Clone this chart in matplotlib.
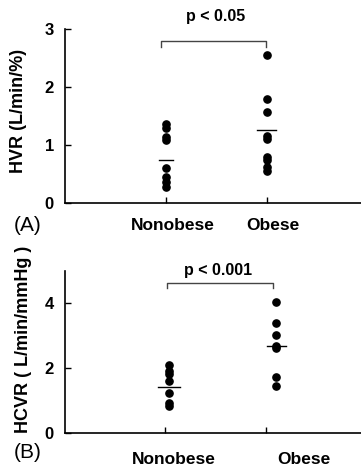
import matplotlib
matplotlib.use("Agg")
import matplotlib.pyplot as plt
import matplotlib.transforms as mtransforms

plt.rcParams['font.family'] = ['Liberation Sans', 'DejaVu Sans']

groups = ["Nonobese", "Obese"]

# Panel A: HVR
hvr_nonobese = [1.36, 1.30, 1.14, 1.09, 0.60, 0.45, 0.37, 0.28]
hvr_obese = [2.56, 1.79, 1.57, 1.15, 1.11, 0.79, 0.75, 0.62, 0.55]
hvr_means = [0.75, 1.26]
hvr_p = "p < 0.05"

# Panel B: HCVR
hcvr_nonobese = [2.10, 1.92, 1.82, 1.59, 1.25, 0.92, 0.82]
hcvr_obese = [4.05, 3.38, 3.02, 2.69, 2.62, 1.74, 1.46]
hcvr_means = [1.42, 2.70]
hcvr_p = "p < 0.001"

W, H = 361, 470
fig = plt.figure(figsize=(W / 100, H / 100), dpi=100)

def px_axes(left, top, right, bottom):
    return fig.add_axes([left / W, 1 - bottom / H, (right - left) / W, (bottom - top) / H])

def style(ax, ylim, yticks, xlim):
    ax.set_xlim(*xlim)
    ax.set_ylim(*ylim)
    ax.set_yticks(yticks)
    ax.set_yticklabels([str(t) for t in yticks], fontsize=12, fontweight='bold')
    ax.set_xticks([0, 1])
    ax.set_xticklabels([])
    ax.tick_params(direction='in', length=4, width=1, pad=8)
    for s in ['top', 'right']:
        ax.spines[s].set_visible(False)
    for s in ['left', 'bottom']:
        ax.spines[s].set_linewidth(1.2)
    ax.patch.set_alpha(0)

def draw(ax, nonob, ob, means, xoff, mean_half, ptxt, bracket, ptxt_pos, label_x, label_y):
    ax.plot([xoff[0]] * len(nonob), nonob, 'o', color='black', ms=5.2, clip_on=False)
    ax.plot([xoff[1]] * len(ob), ob, 'o', color='black', ms=5.2, clip_on=False)
    for i, m in enumerate(means):
        ax.plot([xoff[i] + mean_half[i] * -1, xoff[i] + mean_half[i]], [m, m],
                color='black', lw=1.0)
    bx0, bx1, by, bdrop = bracket
    ax.plot([bx0, bx0, bx1, bx1], [by - bdrop, by, by, by - bdrop], color='#444444',
            lw=1.0, clip_on=False)
    ax.text(ptxt_pos[0], ptxt_pos[1], ptxt, ha='center', va='center',
            fontsize=11.5, fontweight='bold', clip_on=False)
    trans = mtransforms.blended_transform_factory(ax.transData, fig.transFigure)
    for xl, g in zip(label_x, groups):
        ax.text(xl, 1 - label_y / H, g, ha='center', va='center', fontsize=12.5,
                fontweight='bold', transform=trans)

# Panel A
axA = px_axes(65, 29, 361, 203)
style(axA, (0, 3), [0, 1, 2, 3], (-1.01, 1.94))
draw(axA, hvr_nonobese, hvr_obese, hvr_means, (0.0, 1.0), (0.07, 0.095),
     hvr_p, (-0.05, 0.99, 2.79, 0.1), (0.49, 3.21), (0.06, 1.06), 225)
axA.set_ylabel("HVR (L/min/%)", fontsize=13, fontweight='bold')
axA.yaxis.set_label_coords(-0.13, 0.53)
fig.text(28 / W, 1 - 226 / H, "(A)", ha='center', va='center', fontsize=15)

# Panel B
axB = px_axes(65, 271, 361, 433)
style(axB, (0, 5), [0, 2, 4], (-0.99, 1.94))
draw(axB, hcvr_nonobese, hcvr_obese, hcvr_means, (0.04, 1.1), (0.11, 0.095),
     hcvr_p, (0.02, 1.07, 4.62, 0.16), (0.53, 5.03), (0.09, 1.37), 459)
axB.set_ylabel("HCVR ( L/min/mmHg )", fontsize=13, fontweight='bold')
axB.yaxis.set_label_coords(-0.11, 0.575)
fig.text(28 / W, 1 - 452 / H, "(B)", ha='center', va='center', fontsize=15)

fig.savefig("out.png", dpi=100)
